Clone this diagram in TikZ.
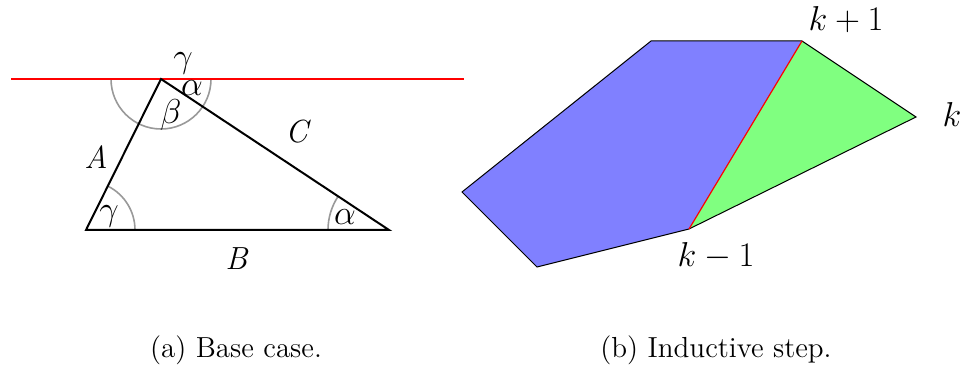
\documentclass[tikz,border=0pt]{standalone}
\begin{document}
\begin{tikzpicture}[x=0.5pt,y=0.5pt,
  tri/.style={draw=black,line width=1pt,line join=miter},
  angarc/.style={draw=black!40,line width=0.8pt},
  triLabel/.style={font=\fontsize{16}{19}\selectfont,inner sep=0pt},
  kLabel/.style={font=\fontsize{17}{20}\selectfont,inner sep=0pt},
  capt/.style={font=\fontsize{14.5}{17}\selectfont,inner sep=0pt},
  poly/.style={draw=black,line width=0.5pt,line join=miter}]
\useasboundingbox (0,0) rectangle (970,369);
% ---- (a) triangle
\coordinate (T) at (161,290);
\coordinate (L) at (86,139);
\coordinate (R) at (389,139);
\coordinate (rl) at (11,290);
\coordinate (rr) at (464,290);
\draw[angarc] (T) ++(-25pt,0) arc[start angle=180,end angle=360,radius=25pt];
\draw[angarc] (L) ++(24.5pt,0) arc[start angle=0,end angle=63.6,radius=24.5pt];
\draw[angarc] (R) ++(-30.5pt,0) arc[start angle=180,end angle=146.5,radius=30.5pt];
\draw[red,line width=1pt] (rl) -- (rr);
\draw[tri] (T) -- (L) -- (R) -- cycle;
\node[triLabel] (g1) at (183,306) {$\gamma$};
\node[triLabel] (a1) at (192,281) {$\alpha$};
\node[triLabel] (b1) at (171,254) {$\beta$};
\node[triLabel] (g2) at (109,153) {$\gamma$};
\node[triLabel] (a2) at (345,152) {$\alpha$};
\node[triLabel] (lA) at (96,212) {\textit{A}};
\node[triLabel] (lC) at (298,237) {\textit{C}};
\node[triLabel] (lB) at (237,110) {\textit{B}};
% ---- (b) polygon
\coordinate (P1) at (462,177);
\coordinate (P2) at (651,328);
\coordinate (P3) at (802,328);
\coordinate (P4) at (916,252);
\coordinate (P5) at (689,140);
\coordinate (P6) at (537,102);
\fill[blue!50] (P1) -- (P2) -- (P3) -- (P5) -- (P6) -- cycle;
\fill[green!50] (P3) -- (P4) -- (P5) -- cycle;
\draw[poly] (P5) -- (P6) -- (P1) -- (P2) -- (P3) -- (P4) -- (P5);
\draw[red,line width=0.6pt] (P3) -- (P5);
\node[kLabel] (k1) at (846,349) {$k+1$};
\node[kLabel] (k0) at (952,254) {$k$};
\node[kLabel] (km) at (716,113) {$k-1$};
% ---- captions
\node[capt] (ca) at (236,19) {(a) Base case.};
\node[capt] (cb) at (716,19) {(b) Inductive step.};
\end{tikzpicture}
\end{document}
